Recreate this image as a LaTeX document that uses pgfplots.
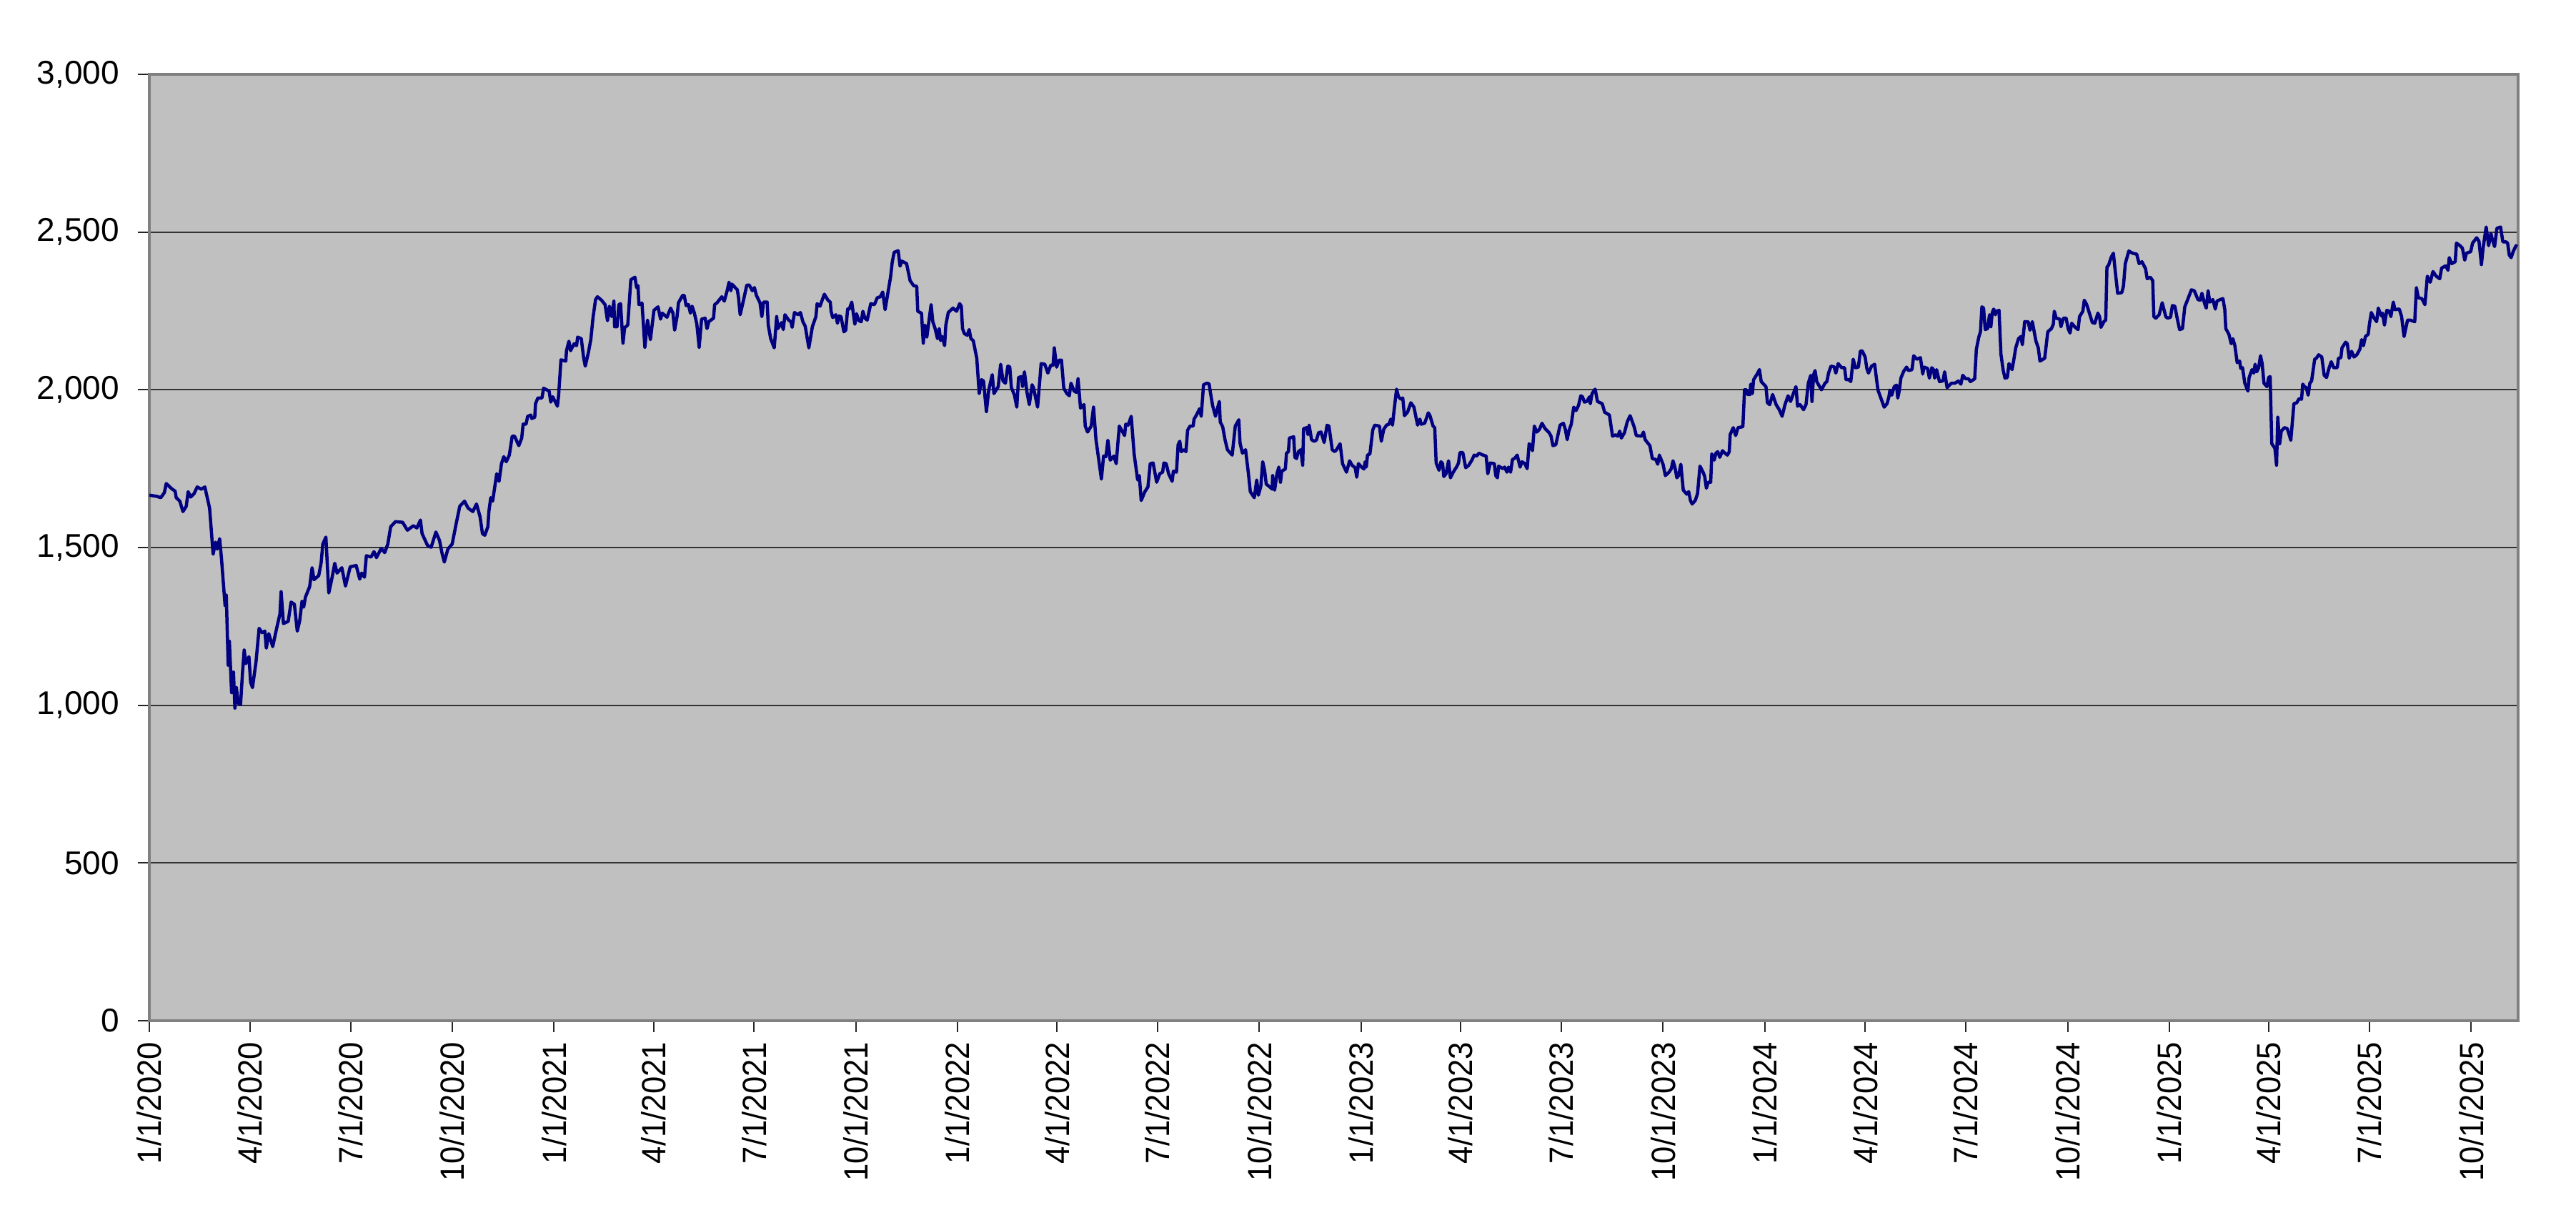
\documentclass[border=0pt]{standalone}
\usepackage{pgfplots}
\pgfplotsset{compat=1.18}
\usepackage{fontspec}
\setmainfont{Liberation Sans}
\definecolor{plotbg}{HTML}{C0C0C0}
\definecolor{navyline}{HTML}{000080}
\definecolor{framegray}{HTML}{808080}
\newcommand\dl[1]{\scalebox{0.93}[1]{#1}}
\begin{document}
\begin{tikzpicture}
\path[use as bounding box] (-41.8pt,-57.8pt) rectangle (679.2pt,285.6pt);
\begin{axis}[
  at={(0pt,0pt)}, anchor=south west,
  scale only axis, width=663pt, height=264.8pt,
  xmin=0, xmax=2142.5, ymin=0, ymax=3000,
  ytick={0,500,1000,1500,2000,2500,3000},
  xtick={0,91,182,274,366,456,547,639,731,821,912,1004,1096,1186,1277,1369,1461,1552,1643,1735,1827,1917,2008,2100},
  xticklabels={\dl{1/1/2020},\dl{4/1/2020},\dl{7/1/2020},\dl{10/1/2020},\dl{1/1/2021},\dl{4/1/2021},\dl{7/1/2021},\dl{10/1/2021},\dl{1/1/2022},\dl{4/1/2022},\dl{7/1/2022},\dl{10/1/2022},\dl{1/1/2023},\dl{4/1/2023},\dl{7/1/2023},\dl{10/1/2023},\dl{1/1/2024},\dl{4/1/2024},\dl{7/1/2024},\dl{10/1/2024},\dl{1/1/2025},\dl{4/1/2025},\dl{7/1/2025},\dl{10/1/2025}},
  tick pos=left, tick align=outside, major tick length=3.1pt,
  tick style={black!85, line width=0.4pt},
  ymajorgrids, grid style={black!80, line width=0.35pt},
  axis background/.style={fill=plotbg},
  axis line style={framegray, line width=0.7pt},
  scaled y ticks=false,
  /pgf/number format/assume math mode=true,
  /pgf/number format/1000 sep={,},
  yticklabel style={/pgf/number format/fixed, /pgf/number format/precision=0, font=\fontsize{9.2}{10}\selectfont, anchor=east, inner sep=0pt},
  yticklabel shift=5.1pt,
  xticklabel style={font=\fontsize{9.4}{10}\selectfont, rotate=90, anchor=east, inner sep=0pt},
  xticklabel shift=2.7pt,
]
\addplot[navyline, line width=0.9pt, line join=round] coordinates {
(0,1666) (7.1,1662) (10.3,1658) (13.6,1674) (15.3,1703) (20.0,1687) (23.3,1679) (24.3,1658) (27.6,1647) (30.4,1614) (33.4,1631) (35.1,1677) (37.3,1660) (40.5,1671) (43.3,1692) (47.0,1685) (50.2,1692) (54.5,1625) (57.7,1479) (59.9,1517) (61.4,1495) (63.6,1528) (65.3,1463) (68.5,1316) (69.6,1349) (71.3,1127) (72.4,1203) (74.4,1040) (76.1,1105) (77.4,991) (78.7,1056) (80.4,1007) (82.5,1002) (84.3,1105) (85.8,1175) (87.3,1132) (90.1,1154) (91.6,1073) (93.3,1056) (96.5,1138) (99.3,1244) (101.9,1230) (104.5,1235) (105.8,1181) (108.0,1227) (111.6,1186) (114.9,1240) (118.1,1289) (119.2,1360) (121.3,1259) (125.6,1266) (128.2,1327) (131.2,1320) (133.8,1235) (136.0,1268) (138.1,1330) (139.6,1311) (141.2,1343) (145.0,1376) (147.2,1436) (148.9,1398) (153.2,1411) (155.4,1452) (156.9,1511) (159.7,1533) (162.3,1356) (164.9,1398) (167.7,1450) (169.8,1419) (174.1,1436) (177.4,1378) (181.7,1439) (187.1,1443) (190.3,1400) (192.0,1419) (194.6,1406) (196.3,1474) (200.6,1470) (203.2,1487) (205.4,1468) (209.7,1497) (212.9,1484) (215.7,1511) (218.3,1566) (222.6,1582) (229.1,1580) (233.4,1555) (238.8,1569) (242.0,1562) (245.2,1587) (246.7,1544) (251.7,1506) (254.9,1501) (259.2,1549) (262.5,1522) (264.6,1484) (266.8,1454) (270.0,1495) (273.9,1511) (277.6,1577) (280.8,1631) (285.1,1647) (288.3,1625) (292.6,1614) (295.9,1638) (299.1,1598) (301.3,1544)
(303.4,1539) (306.2,1566) (307.1,1614) (308.8,1658) (310.5,1647) (314.2,1734) (316.3,1710) (318.5,1766) (320.6,1788) (322.8,1772) (325.6,1793) (328.2,1853) (330.3,1853) (334.2,1823) (336.8,1847) (338.1,1891) (340.7,1891) (342.2,1916) (345.0,1920) (345.8,1909) (348.6,1913) (349.3,1956) (351.4,1974) (355.1,1974) (356.6,2005) (361.6,1996) (363.1,1961) (364.8,1978) (369.1,1948) (370.2,1983) (372.3,2095) (376.7,2091) (377.3,2124) (379.5,2154) (381.0,2124) (384.2,2146) (386.4,2140) (387.4,2167) (390.7,2162) (392.8,2102) (394.3,2075) (397.1,2118) (399.3,2159) (401.4,2232) (403.6,2286) (405.3,2295) (409.0,2284) (412.2,2270) (414.4,2219) (416.1,2265) (418.2,2232) (420.2,2281) (420.8,2200) (423.0,2200) (424.7,2270) (426.2,2273) (428.4,2148) (429.9,2197) (432.7,2205) (435.5,2349) (439.2,2357) (440.7,2324) (442.0,2330) (442.8,2270) (445.6,2275) (448.2,2135) (450.6,2221) (453.2,2159) (456.4,2252) (460.1,2263) (462.4,2224) (463.9,2243) (468.2,2230) (471.5,2259) (473.6,2243) (475.1,2189) (477.3,2232) (478.6,2276) (482.3,2299) (483.8,2299) (485.5,2267) (487.6,2270) (489.4,2243) (490.9,2265) (493.0,2243) (495.2,2208) (497.3,2135) (499.5,2224) (502.7,2227) (504.4,2194) (506.0,2216) (510.3,2227) (511.3,2270) (513.5,2276) (517.8,2295) (520.0,2281) (522.6,2314) (524.3,2341) (526.0,2314) (526.9,2335) (531.8,2317) (532.9,2292) (534.4,2238) (537.2,2281) (540.4,2332) (542.6,2332) (545.4,2314) (547.3,2324) (549.1,2299) (552.3,2276) (554.0,2232) (555.5,2278) (558.8,2278) (559.8,2205) (562.0,2162) (565.2,2133) (567.4,2232) (568.5,2194) (571.7,2213) (573.4,2191) (574.9,2238) (578.2,2221) (580.3,2216) (581.4,2198) (583.5,2245) (586.8,2238) (588.9,2245) (591.1,2216) (593.2,2202) (596.5,2133) (599.7,2200) (602.9,2232) (604.0,2273) (606.6,2265)
(610.5,2303) (613.8,2284) (615.9,2278) (616.6,2249) (618.1,2229) (620.9,2238) (622.4,2211) (623.9,2234) (625.6,2232) (628.2,2184) (629.9,2189) (631.6,2256) (633.1,2256) (635.3,2278) (638.1,2208) (639.6,2241) (641.8,2219) (643.9,2216) (645.4,2249) (647.2,2227) (649.3,2221) (652.5,2273) (655.8,2270) (658.4,2292) (661.2,2295) (663.3,2310) (665.5,2254) (667.6,2299) (670.4,2357) (671.9,2404) (673.7,2436) (677.3,2441) (679.0,2392) (680.6,2408) (684.9,2400) (688.1,2346) (691.3,2330) (694.1,2328) (695.0,2249) (698.4,2243) (700.0,2148) (701.5,2205) (703.2,2167) (707.1,2270) (708.6,2216) (710.7,2194) (712.9,2162) (714.4,2194) (715.7,2156) (717.2,2169) (719.3,2140) (720.4,2205) (722.6,2245) (726.9,2259) (730.1,2249) (732.9,2273) (734.4,2265) (735.5,2194) (737.2,2178) (739.8,2173) (741.5,2191) (743.1,2162) (745.2,2156) (748.4,2100) (750.6,1988) (752.7,2032) (754.5,2028) (757.1,1931) (759.2,1999) (762.4,2048) (763.9,1988) (767.8,2010) (770.0,2081) (772.1,2028) (774.3,2021) (776.5,2075) (778.2,2073) (779.7,2007) (782.5,1983) (784.6,1945) (786.2,2039) (788.9,2042) (789.8,2010) (791.5,2057) (793.7,1994) (795.9,1953) (798.4,2016) (799.7,2007) (803.4,1945) (806.6,2083) (809.9,2081) (812.7,2053) (815.3,2078) (817.4,2078) (818.5,2133) (820.6,2072) (822.8,2094) (825.0,2094) (827.1,2005) (829.9,1988) (832.1,1981) (833.6,2021) (836.4,1996) (838.5,1992) (840.0,2035) (842.2,1942) (845.4,1953) (846.5,1885) (848.6,1866) (851.9,1885) (854.0,1945) (856.2,1842) (859.4,1761) (861.1,1717) (863.1,1790) (865.2,1788) (867.0,1840) (869.1,1777) (872.4,1790) (874.5,1766) (877.3,1885) (882.1,1855) (883.1,1891) (885.3,1888) (888.1,1916) (890.7,1797) (893.9,1714) (895.4,1728) (897.1,1649) (900.4,1677) (903.2,1692) (905.3,1766) (907.9,1768)
(911.1,1707) (913.9,1734) (916.5,1739) (917.6,1768) (919.7,1766) (921.9,1734) (925.1,1710) (926.2,1742) (929.0,1739) (930.5,1826) (932.0,1837) (933.3,1804) (935.9,1810) (937.6,1804) (939.1,1872) (941.3,1885) (944.1,1885) (944.9,1907) (947.1,1920) (949.9,1940) (951.4,1916) (952.7,1978) (953.5,2016) (956.3,2021) (958.5,2019) (959.6,1994) (961.7,1950) (964.3,1916) (966.0,1940) (967.8,1963) (968.6,1898) (970.8,1883) (972.9,1842) (975.1,1810) (979.4,1793) (982.2,1885) (985.4,1905) (986.5,1831) (988.7,1799) (991.5,1810) (994.1,1734) (995.8,1677) (999.4,1658) (1001.6,1714) (1003.1,1666) (1005.3,1694) (1007.0,1772) (1008.7,1745) (1010.2,1701) (1013.5,1692) (1015.6,1685) (1016.0,1728) (1017.8,1682) (1019.9,1734) (1021.6,1755) (1023.1,1707) (1024.2,1742) (1027.5,1749) (1028.5,1799) (1030.3,1804) (1031.1,1847) (1035.0,1851) (1036.1,1786) (1037.6,1782) (1039.3,1804) (1041.5,1810) (1043.2,1761) (1044.0,1877) (1046.9,1880) (1047.9,1858) (1049.0,1888) (1051.2,1842) (1053.3,1837) (1055.5,1840) (1057.6,1864) (1059.8,1866) (1062.6,1833) (1065.2,1888) (1066.9,1885) (1069.9,1810) (1072.1,1804) (1073.8,1810) (1077.0,1829) (1079.2,1766) (1082.8,1739) (1085.6,1775) (1087.8,1761) (1090.6,1753) (1092.1,1723) (1093.6,1766) (1096.4,1755) (1098.6,1749) (1099.7,1772) (1100.7,1755) (1101.8,1793) (1104.0,1797) (1106.5,1872) (1108.3,1888) (1112.6,1885) (1114.3,1837) (1116.5,1875) (1119.0,1888) (1121.2,1891) (1122.9,1907) (1124.4,1888) (1125.9,1937) (1128.1,2002) (1129.8,1978) (1132.0,1970) (1133.7,1974) (1135.2,1918) (1138.0,1929) (1141.0,1959) (1143.8,1945) (1147.1,1888) (1149.2,1907) (1150.3,1891) (1153.5,1894) (1156.8,1927) (1158.3,1918) (1161.1,1885) (1162.6,1880) (1163.9,1768) (1166.5,1745) (1168.2,1772) (1169.7,1766) (1170.8,1725) (1172.9,1734) (1175.1,1775) (1176.8,1721) (1179.4,1739) (1182.6,1757) (1184.1,1768) (1185.4,1801) (1188.0,1801) (1190.6,1753) (1193.4,1761) (1196.2,1777) (1198.3,1793) (1200.5,1790) (1202.6,1799) (1206.3,1793) (1209.1,1790) (1210.6,1734) (1212.8,1768)
(1216.5,1766) (1217.8,1728) (1219.3,1721) (1220.4,1758) (1224.3,1750) (1225.8,1755) (1227.9,1739) (1229.4,1755) (1231.2,1739) (1232.9,1779) (1235.0,1783) (1237.2,1793) (1239.8,1755) (1241.5,1772) (1244.1,1766) (1246.2,1750) (1248.0,1829) (1249.5,1823) (1251.0,1807) (1252.7,1885) (1254.9,1866) (1257.4,1875) (1259.6,1894) (1262.4,1877) (1266.1,1864) (1267.8,1853) (1269.5,1823) (1272.1,1826) (1273.8,1853) (1276.0,1888) (1279.0,1894) (1280.7,1875) (1282.4,1842) (1283.9,1869) (1286.1,1891) (1288.3,1945) (1290.4,1934) (1292.6,1950) (1294.7,1981) (1296.2,1978) (1298.0,1961) (1300.1,1963) (1302.7,1978) (1303.3,1956) (1304.9,1988) (1307.7,2002) (1309.8,1963) (1314.1,1956) (1316.3,1929) (1320.6,1920) (1323.4,1853) (1326.0,1857) (1328.1,1853) (1329.9,1869) (1331.4,1847) (1334.2,1864) (1336.7,1898) (1339.3,1918) (1341.1,1901) (1343.2,1880) (1344.9,1855) (1349.7,1853) (1351.4,1866) (1352.9,1842) (1357.2,1823) (1359.4,1782) (1362.6,1779) (1364.3,1764) (1365.8,1793) (1369.1,1764) (1371.2,1728) (1374.5,1739) (1376.6,1750) (1378.1,1775) (1379.8,1755) (1381.6,1721) (1383.1,1728) (1385.2,1764) (1387.4,1682) (1390.6,1669) (1392.3,1677) (1393.9,1649) (1395.4,1638) (1398.2,1649) (1400.3,1671) (1402.5,1758) (1405.3,1739) (1406.8,1725) (1408.3,1688) (1410.0,1707) (1412.2,1707) (1413.2,1797) (1415.4,1777) (1416.9,1799) (1418.6,1804) (1420.4,1786) (1422.9,1807) (1425.1,1799) (1427.3,1793) (1429.0,1804) (1429.8,1858) (1432.6,1880) (1434.8,1855) (1436.9,1880) (1441.3,1883) (1442.8,2000) (1444.5,2000) (1445.6,1985) (1447.7,1985) (1448.4,2018) (1449.9,1988) (1451.0,2032) (1454.2,2050) (1456.3,2064) (1457.9,2026) (1462.2,2010) (1463.5,1959) (1465.6,1953) (1468.2,1985) (1471.4,1953) (1474.2,1937) (1476.8,1916) (1479.4,1953) (1482.2,1981) (1484.4,1963) (1487.6,1994) (1489.3,2010) (1490.8,1948) (1493.0,1953) (1496.2,1937) (1498.4,1953) (1500.5,2021) (1502.7,2046) (1503.8,1963) (1505.3,2048) (1506.6,2061) (1508.1,2026) (1512.4,2000) (1515.6,2021) (1517.3,2026) (1518.8,2053)
(1521.0,2075) (1523.8,2073) (1525.4,2053) (1527.5,2083) (1530.7,2070) (1533.3,2070) (1534.6,2032) (1537.2,2032) (1538.9,2026) (1541.1,2097) (1543.2,2070) (1545.8,2072) (1547.5,2122) (1549.1,2124) (1551.9,2104) (1553.4,2068) (1554.9,2053) (1557.7,2075) (1560.5,2081) (1562.0,2039) (1563.5,1999) (1566.3,1972) (1569.1,1945) (1571.7,1956) (1573.4,1978) (1574.3,1999) (1576.0,1983) (1578.2,2010) (1580.3,2015) (1581.4,1974) (1582.9,1999) (1584.2,2037) (1586.8,2059) (1589.4,2072) (1591.1,2061) (1594.3,2064) (1595.8,2108) (1598.6,2097) (1601.9,2102) (1604.0,2050) (1605.1,2072) (1608.3,2068) (1610.0,2037) (1612.2,2070) (1613.7,2064) (1614.8,2037) (1616.5,2064) (1619.1,2026) (1622.3,2028) (1623.8,2057) (1626.0,2007) (1629.9,2021) (1633.1,2021) (1636.3,2028) (1638.5,2018) (1640.2,2046) (1642.8,2035) (1645.4,2035) (1647.1,2026) (1651.0,2035) (1652.5,2129) (1654.7,2167) (1656.2,2184) (1657.5,2263) (1659.0,2259) (1660.5,2191) (1662.6,2194) (1664.4,2238) (1665.6,2200) (1666.9,2245) (1668.2,2256) (1669.7,2238) (1670.8,2249) (1673.0,2252) (1674.7,2113) (1676.8,2061) (1678.4,2037) (1680.5,2039) (1682.0,2083) (1684.8,2064) (1686.3,2094) (1688.1,2133) (1690.6,2162) (1692.8,2169) (1694.1,2143) (1696.2,2216) (1699.3,2216) (1701.0,2189) (1703.1,2216) (1706.4,2154) (1708.5,2133) (1710.0,2091) (1714.3,2100) (1717.1,2184) (1720.4,2194) (1722.1,2208) (1723.0,2249) (1724.7,2227) (1727.9,2224) (1729.0,2200) (1731.2,2227) (1733.7,2227) (1735.5,2194) (1737.2,2180) (1738.7,2211) (1741.9,2198) (1744.5,2191) (1745.8,2232) (1748.8,2249) (1750.1,2284) (1752.3,2270) (1754.9,2241) (1757.4,2213) (1759.6,2211) (1762.4,2243) (1763.9,2232) (1765.2,2198) (1767.8,2216) (1769.5,2221) (1770.6,2389) (1772.1,2395) (1774.3,2419) (1776.4,2433) (1778.2,2373) (1780.3,2306) (1784.0,2308) (1785.5,2328) (1787.2,2400) (1790.4,2440) (1793.7,2433) (1797.5,2430) (1799.7,2400) (1802.3,2406) (1805.5,2384) (1807.0,2352) (1809.8,2357) (1812.0,2346) (1813.0,2232) (1814.8,2227) (1817.8,2238) (1820.6,2276) (1823.8,2232)
(1825.5,2227) (1828.1,2230) (1829.8,2267) (1832.0,2265) (1834.1,2227) (1836.3,2191) (1838.9,2194) (1841.0,2263) (1843.6,2286) (1847.0,2317) (1849.6,2314) (1852.9,2286) (1855.0,2284) (1856.5,2306) (1858.7,2276) (1860.4,2259) (1862.1,2314) (1863.6,2278) (1866.4,2286) (1868.6,2256) (1870.1,2281) (1872.9,2286) (1875.5,2289) (1877.2,2254) (1878.1,2194) (1880.9,2176) (1883.0,2146) (1884.5,2162) (1886.3,2140) (1888.4,2086) (1890.6,2091) (1891.6,2068) (1893.2,2070) (1895.3,2021) (1898.1,1996) (1899.2,2039) (1901.8,2064) (1903.5,2053) (1904.6,2081) (1906.1,2057) (1907.8,2070) (1909.5,2108) (1911.0,2083) (1912.6,2021) (1915.3,2010) (1916.9,2039) (1918.2,2042) (1919.7,1829) (1922.5,1815) (1924.0,1761) (1925.1,1913) (1926.8,1829) (1928.3,1869) (1931.1,1880) (1933.7,1877) (1935.4,1858) (1936.9,1840) (1939.7,1956) (1942.3,1959) (1944.4,1972) (1946.6,1970) (1947.7,2018) (1949.2,2010) (1950.9,2007) (1952.6,1983) (1954.1,2021) (1955.7,2028) (1958.5,2097) (1960.0,2100) (1962.1,2111) (1964.9,2104) (1967.1,2046) (1969.2,2039) (1971.4,2068) (1973.5,2089) (1975.7,2070) (1978.9,2070) (1980.0,2100) (1982.2,2102) (1983.2,2133) (1986.5,2151) (1988.0,2146) (1989.7,2100) (1991.9,2122) (1994.0,2104) (1996.6,2111) (1999.4,2129) (2000.9,2159) (2002.6,2140) (2004.4,2169) (2006.9,2176) (2008.0,2208) (2009.7,2245) (2012.3,2227) (2014.5,2216) (2016.0,2259) (2018.8,2234) (2019.9,2243) (2021.6,2205) (2023.7,2252) (2025.9,2249) (2027.4,2232) (2029.6,2278) (2031.1,2254) (2035.0,2256) (2037.1,2232) (2039.3,2169) (2042.5,2221) (2044.7,2221) (2049.0,2216) (2050.5,2324) (2052.2,2292) (2055.4,2289) (2058.2,2270) (2060.4,2360) (2063.0,2341) (2065.5,2375) (2068.4,2360) (2071.6,2352) (2073.3,2386) (2077.0,2393) (2079.1,2379) (2080.2,2419) (2082.4,2400) (2085.6,2406) (2086.7,2465) (2089.9,2457) (2092.1,2449) (2094.2,2411) (2095.7,2433) (2099.6,2438) (2101.3,2465) (2105.0,2482) (2107.1,2471) (2109.3,2397) (2110.8,2449) (2113.6,2516) (2115.8,2457) (2117.9,2495) (2119.0,2479) (2121.2,2454) (2123.3,2512) (2126.6,2516) (2128.7,2469) (2131.5,2469) (2133.0,2465) (2134.5,2427) (2136.2,2419) (2138.0,2438) (2140.6,2457) (2141.6,2454)
};
\end{axis}
\end{tikzpicture}
\end{document}
